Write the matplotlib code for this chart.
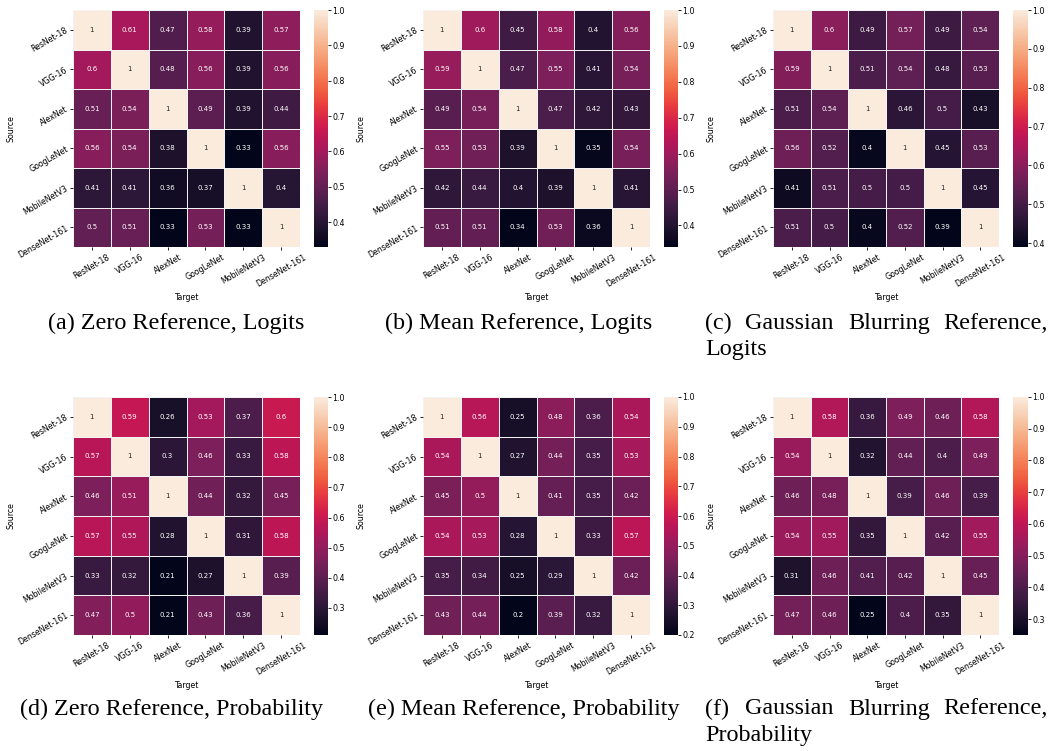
import matplotlib
matplotlib.use('Agg')
import matplotlib.pyplot as plt
import numpy as np
import seaborn as sns

models = ['ResNet-18', 'VGG-16', 'AlexNet', 'GoogLeNet', 'MobileNetV3', 'DenseNet-161']

zero_logits = [
    [1, 0.61, 0.47, 0.58, 0.39, 0.57],
    [0.6, 1, 0.48, 0.56, 0.39, 0.56],
    [0.51, 0.54, 1, 0.49, 0.39, 0.44],
    [0.56, 0.54, 0.38, 1, 0.33, 0.56],
    [0.41, 0.41, 0.36, 0.37, 1, 0.4],
    [0.5, 0.51, 0.33, 0.53, 0.33, 1],
]
mean_logits = [
    [1, 0.6, 0.45, 0.58, 0.4, 0.56],
    [0.59, 1, 0.47, 0.55, 0.41, 0.54],
    [0.49, 0.54, 1, 0.47, 0.42, 0.43],
    [0.55, 0.53, 0.39, 1, 0.35, 0.54],
    [0.42, 0.44, 0.4, 0.39, 1, 0.41],
    [0.51, 0.51, 0.34, 0.53, 0.36, 1],
]
blur_logits = [
    [1, 0.6, 0.49, 0.57, 0.49, 0.54],
    [0.59, 1, 0.51, 0.54, 0.48, 0.53],
    [0.51, 0.54, 1, 0.46, 0.5, 0.43],
    [0.56, 0.52, 0.4, 1, 0.45, 0.53],
    [0.41, 0.51, 0.5, 0.5, 1, 0.45],
    [0.51, 0.5, 0.4, 0.52, 0.39, 1],
]
zero_prob = [
    [1, 0.59, 0.26, 0.53, 0.37, 0.6],
    [0.57, 1, 0.3, 0.46, 0.33, 0.58],
    [0.46, 0.51, 1, 0.44, 0.32, 0.45],
    [0.57, 0.55, 0.28, 1, 0.31, 0.58],
    [0.33, 0.32, 0.21, 0.27, 1, 0.39],
    [0.47, 0.5, 0.21, 0.43, 0.36, 1],
]
mean_prob = [
    [1, 0.56, 0.25, 0.48, 0.36, 0.54],
    [0.54, 1, 0.27, 0.44, 0.35, 0.53],
    [0.45, 0.5, 1, 0.41, 0.35, 0.42],
    [0.54, 0.53, 0.28, 1, 0.33, 0.57],
    [0.35, 0.34, 0.25, 0.29, 1, 0.42],
    [0.43, 0.44, 0.2, 0.39, 0.32, 1],
]
blur_prob = [
    [1, 0.58, 0.36, 0.49, 0.46, 0.58],
    [0.54, 1, 0.32, 0.44, 0.4, 0.49],
    [0.46, 0.48, 1, 0.39, 0.46, 0.39],
    [0.54, 0.55, 0.35, 1, 0.42, 0.55],
    [0.31, 0.46, 0.41, 0.42, 1, 0.45],
    [0.47, 0.46, 0.25, 0.4, 0.35, 1],
]

matrices = [zero_logits, mean_logits, blur_logits, zero_prob, mean_prob, blur_prob]

W, H = 1048, 751
fig = plt.figure(figsize=(W / 100, H / 100), dpi=100)


def rect(x0, y0, x1, y1):
    # pixel box (top-left origin) -> figure fraction
    return [x0 / W, 1 - y1 / H, (x1 - x0) / W, (y1 - y0) / H]


col_x = [(73, 300, 314, 328), (423, 650, 664, 678), (773, 999, 1013, 1028)]
row_y = [(10, 247), (397, 635)]

for idx, data in enumerate(matrices):
    r, c = divmod(idx, 3)
    hx0, hx1, cx0, cx1 = col_x[c]
    y0, y1 = row_y[r]
    ax = fig.add_axes(rect(hx0, y0, hx1, y1))
    cax = fig.add_axes(rect(cx0, y0, cx1, y1))
    sns.heatmap(np.array(data), ax=ax, cbar_ax=cax, annot=True,
                annot_kws={'size': 5}, linewidths=0.6, linecolor='#f2f2f2',
                xticklabels=models, yticklabels=models, vmax=1)
    ax.set_xticklabels(models, rotation=30, fontsize=5.7, ha='center')
    ax.set_yticklabels(models, rotation=30, fontsize=5.7, ha='right',
                       va='center', rotation_mode='anchor')
    ax.tick_params(length=2, width=0.6, pad=2)
    ax.set_xlabel('Target', fontsize=5.7, labelpad=3)
    ax.set_ylabel('Source', fontsize=5.7, labelpad=1)
    cax.tick_params(labelsize=5.7, length=2, width=0.6, pad=1)
    for sp in cax.spines.values():
        sp.set_visible(False)

cap = dict(family='Liberation Serif', fontsize=17.4, va='center')
# single-line captions
fig.text(48 / W, 1 - 323 / H, '(a) Zero Reference, Logits', **cap)
fig.text(385 / W, 1 - 323 / H, '(b) Mean Reference, Logits', **cap)
fig.text(20 / W, 1 - 709 / H, '(d) Zero Reference, Probability', **cap)
fig.text(368 / W, 1 - 709 / H, '(e) Mean Reference, Probability', **cap)

# justified two-line captions
for label, last, y in [('(c)', 'Logits', 323), ('(f)', 'Probability', 709)]:
    words = [label, 'Gaussian', 'Blurring', 'Reference,']
    xs = [705, 745, 848, 943]
    for w, x in zip(words, xs):
        fig.text(x / W, 1 - y / H, w, **cap)
    fig.text(705 / W, 1 - (y + 27) / H, last, **cap)

fig.savefig('out.png', dpi=100)
